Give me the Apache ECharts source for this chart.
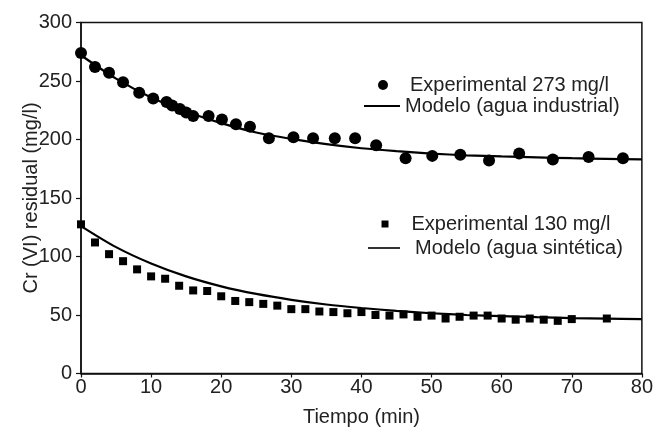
<!DOCTYPE html>
<html>
<head>
<meta charset="utf-8">
<script src="https://cdn.jsdelivr.net/npm/echarts@6/dist/echarts.min.js"></script>
<style>
html,body{margin:0;padding:0;background:#fff;}
#chart{width:656px;height:435px;}
</style>
</head>
<body>
<div id="chart"></div>
<script>
// Experimental 273 mg/l (agua industrial)
const topX = [0, 2, 4, 6, 8.3, 10.3, 12.2, 13, 14.1, 15, 16, 18.2, 20.1, 22.1, 24.1, 26.8, 30.3, 33.1, 36.2, 39.1, 42.1, 46.3, 50.1, 54.1, 58.2, 62.5, 67.3, 72.4, 77.3];
const topY = [274, 262, 257, 249, 240, 235, 232, 229, 226, 223, 220, 220, 217, 213, 211, 201, 202, 201, 201, 201, 195, 184, 186, 187, 182, 188, 183, 185, 184];
// Experimental 130 mg/l (agua sintética)
const botX = [0, 2, 4, 6, 8, 10, 12, 14, 16, 18, 20, 22, 24, 26, 28, 30, 32, 34, 36, 38, 40, 42, 44, 46, 48, 50, 52, 54, 56, 58, 60, 62, 64, 66, 68, 70, 75];
const botY = [127.5, 112, 102, 96, 89, 83, 81, 75, 71, 70.5, 66, 62, 61, 59.5, 58, 55, 55, 53, 52.5, 51.5, 52.5, 50, 49.5, 50.5, 48.5, 49.5, 47, 48.5, 49.5, 49.5, 47, 46, 47, 46, 45, 46.5, 47];
// Model curves
const modelX = [0, 5, 10, 15, 20, 25, 30, 35, 40, 45, 50, 55, 60, 65, 70, 75, 80];
const modelTop = [272, 252, 236, 224, 214, 206, 200.5, 196, 192.5, 190, 188, 186.5, 185.5, 184.7, 184, 183.5, 183];
const modelBot = [126, 108, 94, 83, 74.5, 68, 63, 59, 56, 53.5, 51.5, 50, 49, 48.1, 47.4, 46.9, 46.4];
// Axis ticks
const xTicks = [0, 80, 10];
const yTicks = [0, 300, 50];

const names = ['Experimental 273 mg/l', 'Modelo (agua industrial)', 'Experimental 130 mg/l', 'Modelo (agua sintética)'];
const pair = (xs, ys) => xs.map((x, i) => [x, ys[i]]);

const FONT = 'Liberation Sans, Arial, Helvetica, sans-serif';
const INK = '#000';
const TXT = '#222';

const chart = echarts.init(document.getElementById('chart'), null, {renderer: 'canvas'});
const legendText = (pad) => ({fontFamily: FONT, fontSize: 20, color: TXT, lineHeight: 20, padding: [0, 0, 0, pad]});

chart.setOption({
  animation: false,
  backgroundColor: '#fff',
  grid: {left: 81, right: 12, top: 22.5, bottom: 61.5, show: true, borderColor: '#111', borderWidth: 1.5, backgroundColor: 'transparent'},
  xAxis: {
    type: 'value', min: xTicks[0], max: xTicks[1], interval: xTicks[2],
    name: 'Tiempo (min)', nameLocation: 'middle', nameGap: 34, nameMoveOverlap: false,
    nameTextStyle: {fontFamily: FONT, fontSize: 20, color: TXT},
    axisLine: {show: true, lineStyle: {color: '#111', width: 1.5}},
    axisTick: {show: true, inside: false, length: 4, lineStyle: {color: '#111', width: 1.2}},
    axisLabel: {fontFamily: FONT, fontSize: 20, color: TXT, margin: 4},
    splitLine: {show: false}
  },
  yAxis: {
    type: 'value', min: yTicks[0], max: yTicks[1], interval: yTicks[2],
    name: 'Cr (VI) residual (mg/l)', nameLocation: 'middle', nameGap: 40, nameMoveOverlap: false,
    nameTextStyle: {fontFamily: FONT, fontSize: 20, color: TXT},
    axisLine: {show: true, lineStyle: {color: '#111', width: 1.5}},
    axisTick: {show: true, inside: false, length: 5, lineStyle: {color: '#111', width: 1.2}},
    axisLabel: {fontFamily: FONT, fontSize: 20, color: TXT, margin: 9},
    splitLine: {show: false}
  },
  legend: [
    {data: [{name: names[0], icon: 'circle'}], left: 378, top: 75, padding: 0, itemWidth: 10, itemHeight: 10, selectedMode: false, textStyle: legendText(17)},
    {data: [{name: names[1], icon: 'path://M0,0H40V2H0Z'}], left: 364, top: 96, padding: 0, itemWidth: 36, itemHeight: 2, selectedMode: false, textStyle: legendText(0)},
    {data: [{name: names[2], icon: 'rect'}], left: 381.5, top: 214, padding: 0, itemWidth: 7, itemHeight: 7, selectedMode: false, textStyle: legendText(18)},
    {data: [{name: names[3], icon: 'path://M0,0H40V2H0Z'}], left: 368, top: 238, padding: 0, itemWidth: 32, itemHeight: 2, selectedMode: false, textStyle: legendText(10)}
  ],
  series: [
    {name: names[0], type: 'scatter', data: pair(topX, topY), symbol: 'circle', symbolSize: 12, itemStyle: {color: INK, opacity: 1}, z: 3},
    {name: names[1], type: 'line', data: pair(modelX, modelTop), smooth: 0.3, symbol: 'none', showSymbol: false, lineStyle: {color: INK, width: 2.2}, itemStyle: {color: INK}, z: 2},
    {name: names[2], type: 'scatter', data: pair(botX, botY), symbol: 'rect', symbolSize: 8, itemStyle: {color: INK, opacity: 1}, z: 3},
    {name: names[3], type: 'line', data: pair(modelX, modelBot), smooth: 0.3, symbol: 'none', showSymbol: false, lineStyle: {color: INK, width: 2.2}, itemStyle: {color: INK}, z: 2}
  ]
});
</script>
</body>
</html>
